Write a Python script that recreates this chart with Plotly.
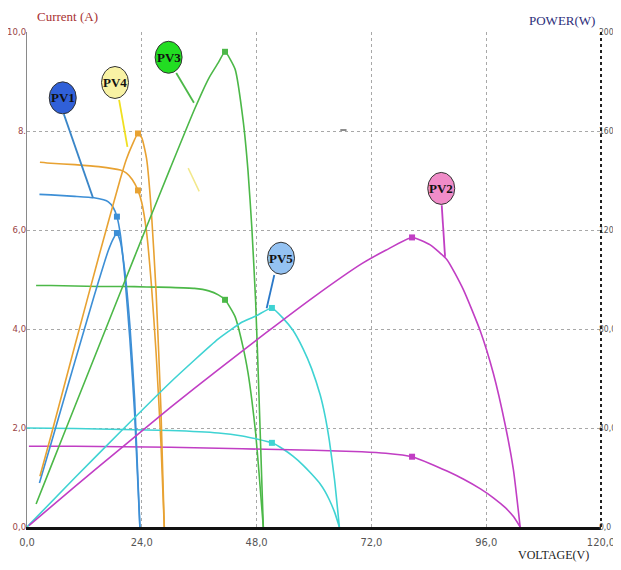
import plotly.graph_objects as go

# ---------------- data ----------------
# PV1 (blue)
v1 = [2.6, 5, 10, 14, 16, 17, 18, 18.8, 19.5, 20.5, 21.5, 22.5, 23.6]
i1 = [6.72, 6.71, 6.68, 6.65, 6.61, 6.57, 6.46, 6.27, 5.92, 5.0, 3.8, 2.3, 0.0]
p1 = [17.8, 33.5, 66.8, 93.1, 105.8, 111.7, 116.3, 118.8, 115.4, 102.5, 81.7, 51.8, 0.0]
mpp1 = 7

# PV4 (orange)
v4 = [2.7, 5, 10, 15, 19.5, 20.8, 22, 23.2, 24, 25, 26, 27, 28, 28.7]
i4 = [7.37, 7.35, 7.32, 7.28, 7.21, 7.15, 7.02, 6.8, 6.55, 5.95, 4.9, 3.5, 1.7, 0.0]
p4 = [20.5, 36.8, 73.2, 109.2, 140.6, 148.7, 154.4, 159.0, 157.2, 148.8, 127.4, 94.5, 47.6, 0.0]
mpp4 = 7

# PV3 (green)
v3 = [1.9, 5, 10, 15, 20, 25, 30, 35, 38, 40, 41.4, 43.5, 45.2, 46.2, 47, 47.8, 48.5, 49.4]
i3 = [4.88, 4.88, 4.87, 4.86, 4.86, 4.85, 4.84, 4.82, 4.77, 4.69, 4.59, 4.25, 3.62, 3.12, 2.57, 1.9, 1.1, 0.0]
p3 = [9.3, 24.4, 48.7, 72.9, 97.2, 121.3, 145.2, 168.7, 181.3, 187.6, 192.0, 185.0, 164.0, 144.0, 121.0, 91.0, 53.0, 0.0]
mpp3 = 10

# PV5 (cyan)
v5 = [0, 10, 20, 30, 40, 45, 48, 51.2, 53.6, 55.6, 57.7, 59.5, 61.3, 62.3, 63.2, 64.3, 65.3]
i5 = [2.0, 1.99, 1.97, 1.95, 1.9, 1.84, 1.78, 1.70, 1.57, 1.43, 1.25, 1.07, 0.87, 0.72, 0.55, 0.3, 0.0]
p5 = [0, 19.9, 39.4, 58.5, 76.0, 82.8, 85.4, 88.5, 84.2, 79.5, 72.1, 64.0, 53.3, 45.0, 35.0, 19.0, 0.0]
mpp5 = 7

# PV2 (magenta)
v2 = [0.4, 10, 20, 30, 40, 50, 60, 70, 75, 80.5, 84.3, 87.8, 91.2, 94.8, 97.5, 100, 101.7, 103.1]
i2 = [1.63, 1.63, 1.62, 1.61, 1.59, 1.57, 1.55, 1.52, 1.49, 1.42, 1.28, 1.13, 0.97, 0.77, 0.59, 0.39, 0.21, 0.0]
p2 = [0.6, 16.3, 32.4, 48.3, 63.6, 78.5, 93.0, 106.4, 111.8, 117.0, 114.0, 108.0, 96.0, 79.0, 62.0, 41.0, 23.0, 0.0]
mpp2 = 9

x_ticks = [0, 24, 48, 72, 96, 120]
x_ticktext = ["0,0", "24,0", "48,0", "72,0", "96,0", "120,0"]
y_ticks = [0, 2, 4, 6, 8, 10]
y_ticktext = ["0,0", "2,0", "4,0", "6,0", "8.", "10,0"]
y2_ticks = [0, 40, 80, 120, 160, 200]
y2_ticktext = ["0,0", "40,0", "80,0", "120,0", "160,0", "200,0"]

# label balloons: name, centre (V, A), leader start, leader end, fill, leader colour
labels = [
    ("PV1", (7.47, 8.67), (7.7, 8.34), (13.8, 6.65), "#3060d8", "#3a86c8"),
    ("PV4", (18.4, 8.98), (19.25, 8.63), (21.0, 7.68), "#f8f2a4", "#f0e020"),
    ("PV3", (29.6, 9.49), (31.2, 9.17), (34.9, 8.57), "#22dd22", "#4cb848"),
    ("PV2", (86.6, 6.84), (86.7, 6.50), (87.4, 5.46), "#f08cc8", "#c13ec4"),
    ("PV5", (53.1, 5.43), (51.7, 5.09), (50.1, 4.42), "#94c2f2", "#2a78c8"),
]

series = [
    (v1, i1, p1, mpp1, "#3d8fd6"),
    (v4, i4, p4, mpp4, "#e8a232"),
    (v3, i3, p3, mpp3, "#4cb848"),
    (v5, i5, p5, mpp5, "#3fd3d3"),
    (v2, i2, p2, mpp2, "#c13ec4"),
]

fig = go.Figure()
for v, i, p, k, col in series:
    fig.add_trace(go.Scatter(x=v, y=i, mode="lines", line=dict(color=col, width=1.6, shape="spline", smoothing=0.5),
                             yaxis="y", hoverinfo="skip"))
    fig.add_trace(go.Scatter(x=v, y=p, mode="lines", line=dict(color=col, width=1.6, shape="spline", smoothing=0.5),
                             yaxis="y2", hoverinfo="skip"))
    fig.add_trace(go.Scatter(x=[v[k]], y=[i[k]], mode="markers", marker=dict(color=col, size=6, symbol="square"),
                             yaxis="y", hoverinfo="skip"))
    fig.add_trace(go.Scatter(x=[v[k]], y=[p[k]], mode="markers", marker=dict(color=col, size=6, symbol="square"),
                             yaxis="y2", hoverinfo="skip"))

shapes = []
annotations = []
for name, c, s, e, fill, lc in labels:
    shapes.append(dict(type="line", xref="x", yref="y", x0=s[0], y0=s[1], x1=e[0], y1=e[1],
                       line=dict(color=lc, width=1.8)))
    shapes.append(dict(type="circle", xref="x", yref="y", xsizemode="pixel", ysizemode="pixel",
                       xanchor=c[0], yanchor=c[1], x0=-13.5, x1=13.5, y0=-16, y1=16,
                       fillcolor=fill, line=dict(color="#333333", width=1)))
    annotations.append(dict(x=c[0], y=c[1], xref="x", yref="y", text="<b>" + name + "</b>", showarrow=False,
                            font=dict(family="Liberation Serif", size=13, color="#111111")))

# stray marks seen in the reference
shapes.append(dict(type="line", xref="x", yref="y", x0=33.7, y0=7.25, x1=36.0, y1=6.78,
                   line=dict(color="#f2e88a", width=1.5)))
shapes.append(dict(type="line", xref="x", yref="y", x0=65.5, y0=8.02, x1=66.8, y1=8.02,
                   line=dict(color="#666666", width=1.5)))
# right axis (dotted)
shapes.append(dict(type="line", xref="paper", yref="paper", x0=1, x1=1, y0=0, y1=1,
                   line=dict(color="#222222", width=2, dash="dot")))

annotations += [
    dict(xref="paper", yref="paper", x=0.014, y=1.031, xanchor="left", yanchor="middle", showarrow=False,
         text="Current (A)", font=dict(family="Liberation Serif", size=13, color="#a83232")),
    dict(xref="paper", yref="paper", x=0.993, y=1.023, xanchor="right", yanchor="middle", showarrow=False,
         text="POWER(W)", font=dict(family="Liberation Serif", size=13, color="#2e2e7a")),
    dict(xref="paper", yref="paper", x=0.983, y=-0.057, xanchor="right", yanchor="middle", showarrow=False,
         text="VOLTAGE(V)", font=dict(family="Liberation Serif", size=12, color="#222222")),
]

tickfont_family = "Liberation Sans Narrow, DejaVu Sans Condensed, Liberation Sans"
fig.update_layout(
    width=613, height=554,
    margin=dict(l=19, r=20, t=24, b=35, autoexpand=False),
    paper_bgcolor="white", plot_bgcolor="white",
    showlegend=False,
    xaxis=dict(range=[0, 120], tickvals=x_ticks, ticktext=x_ticktext, showgrid=True, automargin=False,
               gridcolor="#a8a8a8", griddash="dot", gridwidth=1, zeroline=False,
               showline=True, linecolor="#111111", linewidth=2.5, ticks="", ticklabelstandoff=3,
               tickfont=dict(family=tickfont_family, size=11, color="#555555")),
    yaxis=dict(range=[0, 10], tickvals=y_ticks, ticktext=y_ticktext, showgrid=True, automargin=False,
               gridcolor="#a8a8a8", griddash="dot", gridwidth=1, zeroline=False,
               showline=True, linecolor="#8a8a8a", linewidth=1, ticks="", ticklabelstandoff=-2,
               tickfont=dict(family=tickfont_family, size=9.5, color="#9a4545")),
    yaxis2=dict(range=[0, 200], tickvals=y2_ticks, ticktext=y2_ticktext, overlaying="y", side="right",
                showgrid=False, zeroline=False, showline=False, ticks="", automargin=False,
                ticklabelstandoff=-3,
                tickfont=dict(family=tickfont_family, size=8.5, color="#555555")),
    shapes=shapes,
    annotations=annotations,
)

fig.write_html("out.html")
